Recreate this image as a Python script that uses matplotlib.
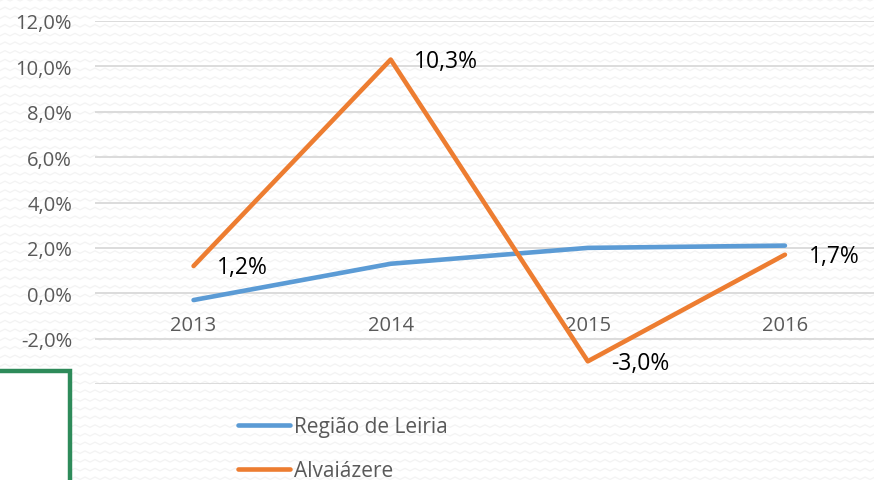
import matplotlib.pyplot as plt
import numpy as np
from matplotlib.lines import Line2D
from matplotlib.patches import Rectangle
from matplotlib.ticker import FuncFormatter

plt.rcParams['font.family'] = ['Open Sans', 'DejaVu Sans']

years = ['2013', '2014', '2015', '2016']
regiao_leiria = [-0.3, 1.3, 2.0, 2.1]
alvaiazere = [1.2, 10.3, -3.0, 1.7]
alvaiazere_labels = ['1,2%', '10,3%', '-3,0%', '1,7%']

W, H = 874, 481
fig = plt.figure(figsize=(W / 100, H / 100), dpi=100)
fig.patch.set_facecolor('white')

# light zig-zag texture in the background
bg = fig.add_axes([0, 0, 1, 1], zorder=-10)
bg.set_xlim(0, W)
bg.set_ylim(H, 0)
bg.axis('off')
zx = np.arange(-10, W + 10, 5.0)
for row in np.arange(2, H + 9, 8.7):
    zy = row + np.where((np.arange(len(zx)) % 2) == 0, 0, -2.5)
    bg.plot(zx, zy, color='#f3f3f3', lw=0.9, solid_joinstyle='miter')

# axes: category centres at 193, 390, 588, 785 px; -4% at y=385, 12% at y=22
ax = fig.add_axes([95 / W, 1 - 385 / H, 788.5 / W, 363 / H])
ax.set_facecolor('none')
x = np.arange(len(years))
ax.set_xlim(-0.5, len(years) - 0.5)
ax.set_ylim(-4, 12)
ax.set_yticks(np.arange(-4, 13, 2))
ax.yaxis.set_major_formatter(FuncFormatter(
    lambda v, p: '' if v < -3 else f'{v:.1f}%'.replace('.', ',')))
ax.grid(axis='y', color='#d9d9d9', lw=1.3)
ax.set_axisbelow(True)
for s in ax.spines.values():
    s.set_visible(False)
ax.spines['bottom'].set_position(('data', 0))
ax.set_xticks(x)
ax.set_xticklabels(years)
ax.tick_params(axis='x', length=0, pad=15.5, labelsize=14.5, labelcolor='#595959')
ax.tick_params(axis='y', length=0, pad=16.5, labelsize=14.5, labelcolor='#595959')

l1, = ax.plot(x, regiao_leiria, color='#5b9bd5', lw=3.3, solid_capstyle='round',
              label='Região de Leiria')
l2, = ax.plot(x, alvaiazere, color='#ed7d31', lw=3.3, solid_capstyle='round',
              label='Alvaiázere')

for xi, yi, txt in zip(x, alvaiazere, alvaiazere_labels):
    ax.annotate(txt, (xi, yi), xytext=(17, -1), textcoords='offset points',
                ha='left', va='center', fontsize=16.5, color='#000000')

fig.legend(handles=[l1, l2], loc='upper left', frameon=False,
           bbox_to_anchor=(238 / W, 1 - 417 / H), borderpad=0, borderaxespad=0,
           handlelength=2.5, handletextpad=0.2, labelspacing=1.1,
           fontsize=15, labelcolor='#595959')

# green frame fragment at bottom-left
fig.add_artist(Rectangle((0, 0), 70 / W, 1 - 372 / H, transform=fig.transFigure,
                         facecolor='white', edgecolor='none', zorder=5))
fig.add_artist(Line2D([0, 70 / W, 70 / W], [1 - 372 / H, 1 - 372 / H, 0],
                      transform=fig.transFigure, color='#2e8b5a', lw=3.2,
                      solid_joinstyle='miter', zorder=6))

fig.savefig('out.png', dpi=100)
